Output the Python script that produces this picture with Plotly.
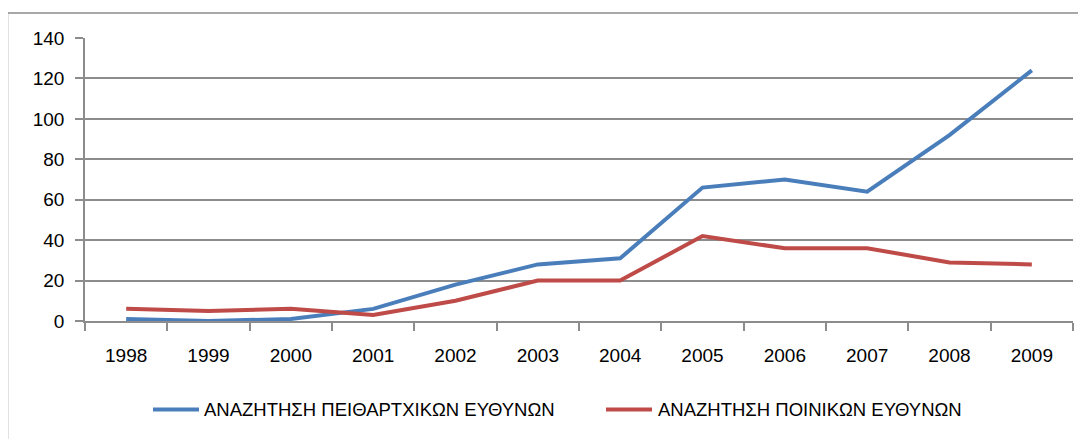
import plotly.graph_objects as go

years = ["1998", "1999", "2000", "2001", "2002", "2003", "2004", "2005", "2006", "2007", "2008", "2009"]
disciplinary = [1, 0, 1, 6, 18, 28, 31, 66, 70, 64, 92, 124]
criminal = [6, 5, 6, 3, 10, 20, 20, 42, 36, 36, 29, 28]
name_disc = "ΑΝΑΖΗΤΗΣΗ ΠΕΙΘΑΡΤΧΙΚΩΝ ΕΥΘΥΝΩΝ"
name_crim = "ΑΝΑΖΗΤΗΣΗ ΠΟΙΝΙΚΩΝ ΕΥΘΥΝΩΝ"
y_ticks = [0, 20, 40, 60, 80, 100, 120, 140]

BLUE = "#4A7EBB"
RED = "#BE4B48"
GRID = "#8C8C8C"
FONT = "Liberation Sans, Arial, sans-serif"

# page body has an 8px margin; work in page pixels and convert
OFF = 8
W, H = 1086 - OFF, 439 - OFF
px_left, px_right, px_top, px_bottom = 85, 1073, 38, 321
L = px_left - OFF
R = W - (px_right - OFF)
T = px_top - OFF
B = H - (px_bottom - OFF)
pw = px_right - px_left
ph = px_bottom - px_top


def xp(px):
    return (px - px_left) / pw


def yp(py):
    return (px_bottom - py) / ph


fig = go.Figure()
fig.add_trace(go.Scatter(x=years, y=disciplinary, mode="lines", name=name_disc,
                         line=dict(color=BLUE, width=4), showlegend=False))
fig.add_trace(go.Scatter(x=years, y=criminal, mode="lines", name=name_crim,
                         line=dict(color=RED, width=4), showlegend=False))

leg_y = 409.5
legend_items = [(name_disc, BLUE, 153, 199, 202), (name_crim, RED, 606, 652, 656)]
shapes = [dict(type="rect", xref="paper", yref="paper",
               x0=xp(7.5), x1=xp(1100), y0=yp(460), y1=yp(13),
               line=dict(color=GRID, width=1.5), fillcolor="rgba(0,0,0,0)", layer="below")]
annotations = []
for name, col, lx0, lx1, tx in legend_items:
    shapes.append(dict(type="line", xref="paper", yref="paper",
                       x0=xp(lx0), x1=xp(lx1), y0=yp(leg_y), y1=yp(leg_y),
                       line=dict(color=col, width=4)))
    annotations.append(dict(xref="paper", yref="paper", x=xp(tx), y=yp(leg_y),
                            xanchor="left", yanchor="middle", showarrow=False,
                            text=name, font=dict(family=FONT, size=18.5, color="black")))

fig.update_layout(
    width=W, height=H,
    margin=dict(l=L, r=R, t=T, b=B, pad=0),
    paper_bgcolor="white", plot_bgcolor="white",
    font=dict(family=FONT, size=19, color="black"),
    showlegend=False,
    xaxis=dict(type="category", showgrid=False, showline=True, linecolor=GRID, linewidth=1.5,
               ticks="outside", tickson="boundaries", ticklen=8, tickcolor=GRID, tickwidth=1.5,
               ticklabelstandoff=16, range=[-0.5, 11.5], fixedrange=True),
    yaxis=dict(range=[0, 140], tickvals=y_ticks, showgrid=True, gridcolor=GRID, gridwidth=1.5,
               showline=True, linecolor=GRID, linewidth=1.5, zeroline=False,
               ticks="outside", ticklen=8, tickcolor=GRID, tickwidth=1.5,
               ticklabelstandoff=7),
    shapes=shapes,
    annotations=annotations,
)

fig.write_html("out.html")
